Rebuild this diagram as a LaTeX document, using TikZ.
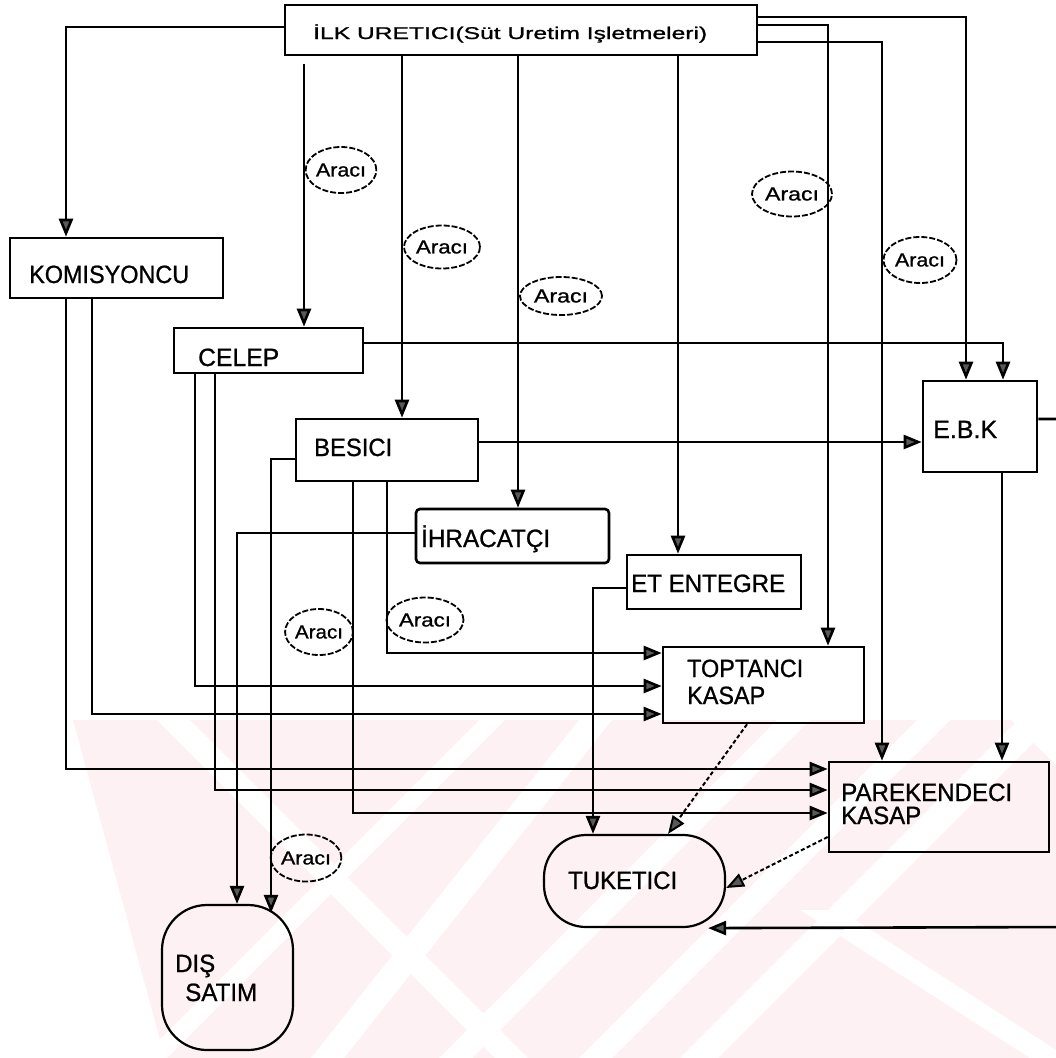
\documentclass[tikz,border=0pt]{standalone}
\usepackage{fontspec}
\setmainfont{Liberation Sans}[FakeBold=0.9]
\usetikzlibrary{arrows.meta,calc,shapes.geometric}
\definecolor{wm}{RGB}{254,241,244}
\newcommand\fitw[2]{\resizebox{#1pt}{\height}{#2}}
\begin{document}
\begin{tikzpicture}[x=1pt,y=-1pt,
  box/.style={draw, line width=2.6pt, inner sep=0pt},
  lbl/.style={inner sep=0pt, anchor=base west, font=\fontsize{25}{28}\selectfont},
  araci/.style={ellipse, draw, line width=1.8pt, dash pattern=on 6pt off 2pt, inner sep=0pt, font=\fontsize{19}{21}\selectfont},
  conn/.style={line width=2.6pt, -{Triangle[length=18pt,width=14pt,fill=black!65]}},
  dconn/.style={conn, line width=2pt, dash pattern=on 4pt off 2.5pt},
  wire/.style={line width=2.6pt}
]
\useasboundingbox (0,0) rectangle (1056,1058);
% watermark
\fill[wm] (73,720) -- (1011,720) -- (1056,765) -- (1056,1058) -- (165,1058) -- cycle;
\fill[white] (479,720) -- (505,720) -- (167,1058) -- (141,1058) -- cycle;
\fill[white] (579,720) -- (612,720) -- (344,1058) -- (311,1058) -- cycle;
\fill[white] (777,720) -- (810,720) -- (472,1058) -- (439,1058) -- cycle;
\fill[white] (917,720) -- (950,720) -- (612,1058) -- (579,1058) -- cycle;
\fill[white] (1018,720) -- (1056,720) -- (718,1058) -- (680,1058) -- cycle;
\fill[white] (157,720) -- (190,720) -- (528,1058) -- (495,1058) -- cycle;
\fill[white] (800,910) -- (840,910) -- (1056,1050) -- (1056,1058) -- (1030,1058) -- cycle;

% boxes
\node[box, minimum width=472, minimum height=50] (ilk) at (521,30) {};
\node[box, minimum width=213, minimum height=60] (kom) at (116.5,268) {};
\node[box, minimum width=189, minimum height=45] (celep) at (268.5,350.5) {};
\node[box, minimum width=182, minimum height=62] (besici) at (387,450) {};
\node[box, rounded corners=4pt, minimum width=193, minimum height=54] (ihr) at (512.5,536) {};
\node[box, minimum width=174, minimum height=54] (et) at (714,582) {};
\node[box, minimum width=114, minimum height=91] (ebk) at (980,426.5) {};
\node[box, minimum width=201, minimum height=76] (topt) at (763.5,685) {};
\node[box, minimum width=220, minimum height=90] (pare) at (939,807) {};
\node[box, line width=2.2pt, rounded corners=42pt, minimum width=181, minimum height=92] (tuk) at (634.5,881) {};
\node[box, line width=2.2pt, rounded corners=45pt, minimum width=131, minimum height=145] (dis) at (227.5,977.5) {};

% labels
\node[lbl, font=\fontsize{17}{19}\selectfont] (tilk) at (313,39) {\fitw{394}{İLK URETICI(Süt Uretim Işletmeleri)}};
\node[lbl] (tkom) at (29,283) {\fitw{160}{KOMISYONCU}};
\node[lbl] (tcelep) at (198,366) {\fitw{81}{CELEP}};
\node[lbl] (tbesici) at (314,456) {\fitw{78}{BESICI}};
\node[lbl] (tihr) at (421,547) {\fitw{129}{İHRACATÇI}};
\node[lbl] (tet) at (631,592) {\fitw{154}{ET ENTEGRE}};
\node[lbl] (tebk) at (933,438) {\fitw{64}{E.B.K}};
\node[lbl] (ttopt1) at (687,677) {\fitw{116}{TOPTANCI}};
\node[lbl] (ttopt2) at (687,704) {\fitw{78}{KASAP}};
\node[lbl] (tpare1) at (841,801) {\fitw{171}{PAREKENDECI}};
\node[lbl] (tpare2) at (841,824) {\fitw{80}{KASAP}};
\node[lbl] (ttuk) at (568,889) {\fitw{109}{TUKETICI}};
\node[lbl] (tdis1) at (175,972) {\fitw{40}{DIŞ}};
\node[lbl] (tdis2) at (185,1001) {\fitw{72}{SATIM}};

% Araci ellipses
\node[araci, minimum width=70, minimum height=46] (a1) at (341,170) {\fitw{50}{Aracı}};
\node[araci, minimum width=76, minimum height=43] (a2) at (442,247) {\fitw{52}{Aracı}};
\node[araci, minimum width=82, minimum height=38] (a3) at (561,296) {\fitw{54}{Aracı}};
\node[araci, minimum width=80, minimum height=45] (a4) at (792,194) {\fitw{54}{Aracı}};
\node[araci, minimum width=73, minimum height=46] (a5) at (920,260) {\fitw{50}{Aracı}};
\node[araci, minimum width=66, minimum height=46] (a6) at (319,632) {\fitw{48}{Aracı}};
\node[araci, minimum width=77, minimum height=45] (a7) at (425,620) {\fitw{52}{Aracı}};
\node[araci, minimum width=68, minimum height=47] (a8) at (306,858) {\fitw{50}{Aracı}};

% free-end coordinates of the E.B.K -> TUKETICI loop
\coordinate (offR1) at (1070,419);
\coordinate (offR2) at (1070,927);

% connectors from ILK URETICI
\draw[conn] (ilk.west |- 0,27) -| (kom.north -| 66,0);
\draw[conn] ($(ilk.south -| 304,0)+(0,8)$) -- (celep.north -| 304,0);
\draw[conn] (ilk.south -| 402,0) -- (besici.north -| 402,0);
\draw[conn] (ilk.south -| 518,0) -- (ihr.north -| 518,0);
\draw[conn] (ilk.south -| 678,0) -- (et.north -| 678,0);
\draw[conn] (ilk.east |- 0,25) -| (topt.north -| 828,0);
\draw[conn] (ilk.east |- 0,42) -| (pare.north -| 882,0);
\draw[conn] (ilk.east |- 0,17) -| (ebk.north -| 966,0);

% CELEP
\draw[conn] (celep.east |- 0,343) -| (ebk.north -| 1003,0);
\draw[conn] (celep.south -| 195,0) |- (topt.west |- 0,686);
\draw[conn] (celep.south -| 215,0) |- (pare.west |- 0,790);

% KOMISYONCU
\draw[conn] (kom.south -| 92,0) |- (topt.west |- 0,714);
\draw[conn] (kom.south -| 66,0) |- (pare.west |- 0,769);

% BESICI
\draw[conn] (besici.east |- 0,442) -- (ebk.west |- 0,442);
\draw[conn] (besici.south -| 387,0) |- (topt.west |- 0,653);
\draw[conn] (besici.south -| 353,0) |- (pare.west |- 0,813);
\draw[conn] (besici.west |- 0,459) -| ($(dis.north -| 271,0)+(0,9)$);

% IHRACATCI, ET ENTEGRE, E.B.K
\draw[conn] (ihr.west |- 0,533) -| (dis.north -| 237,0);
\draw[conn] (et.west |- 0,588) -| (tuk.north -| 593,0);
\draw[conn] (ebk.south -| 1002,0) -- (pare.north -| 1002,0);
\draw[conn] (ebk.east |- 0,419) -- (offR1) -- (offR2) -- ($(tuk.south east)+(-18,0)$);

% dashed flows to TUKETICI
\draw[dconn] (topt.south -| 747,0) -- (tuk.north -| 668,0);
\draw[dconn] (pare.west |- 0,837) -- (tuk.east |- 0,888);
\end{tikzpicture}
\end{document}
